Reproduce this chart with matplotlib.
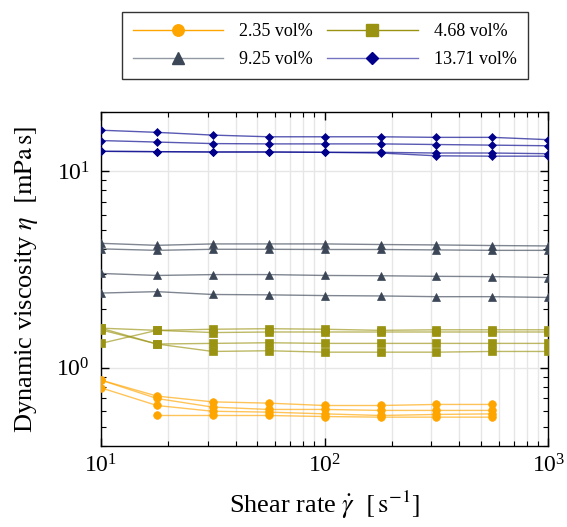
import numpy as np
import matplotlib
matplotlib.use("Agg")
import matplotlib.pyplot as plt
from matplotlib.lines import Line2D
from matplotlib.colors import to_rgba
from matplotlib.ticker import LogLocator, NullFormatter

plt.rcParams['font.family'] = ['Liberation Serif', 'DejaVu Serif']
plt.rcParams['mathtext.fontset'] = 'stix'

shear_rate = [10, 17.8, 31.6, 56.2, 100, 178, 316, 562, 1000]

# 2.35 vol% (measured up to 562 1/s)
eta_235 = [
    [0.865, 0.717, 0.670, 0.660, 0.642, 0.642, 0.650, 0.650],
    [0.865, 0.697, 0.630, 0.613, 0.613, 0.606, 0.606, 0.606],
    [0.790, 0.642, 0.600, 0.594, 0.582, 0.571, 0.578, 0.582],
    [np.nan, 0.571, 0.571, 0.571, 0.564, 0.560, 0.560, 0.560],
]
# 4.68 vol%
eta_468 = [
    [1.59, 1.55, 1.57, 1.58, 1.57, 1.55, 1.56, 1.56, 1.56],
    [1.59, 1.32, 1.33, 1.34, 1.33, 1.33, 1.33, 1.33, 1.33],
    [1.33, 1.55, 1.51, 1.52, 1.52, 1.52, 1.52, 1.52, 1.52],
    [1.56, 1.32, 1.21, 1.22, 1.20, 1.20, 1.20, 1.21, 1.21],
]
# 9.25 vol%
eta_925 = [
    [4.30, 4.20, 4.27, 4.27, 4.27, 4.24, 4.22, 4.19, 4.17],
    [4.03, 3.96, 4.01, 4.01, 4.00, 4.00, 3.98, 3.96, 3.96],
    [3.02, 2.95, 2.98, 2.98, 2.95, 2.94, 2.92, 2.91, 2.88],
    [2.40, 2.44, 2.36, 2.35, 2.33, 2.32, 2.30, 2.30, 2.28],
]
# 13.71 vol%
eta_1371 = [
    [16.2, 15.8, 15.3, 15.0, 15.0, 15.0, 14.9, 14.9, 14.5],
    [14.35, 14.1, 13.85, 13.8, 13.8, 13.8, 13.7, 13.6, 13.5],
    [12.65, 12.6, 12.55, 12.55, 12.5, 12.5, 12.4, 12.4, 12.3],
    [12.65, 12.6, 12.55, 12.55, 12.5, 12.4, 12.0, 11.95, 11.95],
]

labels = ['2.35 vol%', '4.68 vol%', '9.25 vol%', '13.71 vol%']
colors = ['#FFA500', '#9A9312', '#3B4656', '#00008B']
markers = ['o', 's', '^', 'D']
sizes = [5.5, 5.5, 5.5, 4.0]
legend_line_alpha = [1.0, 1.0, 0.55, 0.55]

fig = plt.figure(figsize=(5.67, 5.27), dpi=100)
ax = fig.add_axes([0.178, 0.154, 0.789, 0.633])

handles = []
for data, lab, c, m, s, la in zip([eta_235, eta_468, eta_925, eta_1371], labels,
                                  colors, markers, sizes, legend_line_alpha):
    for row in data:
        x = shear_rate[:len(row)]
        ax.plot(x, row, color=c, alpha=0.65, lw=1.0, zorder=2)
        ax.plot(x, row, ls='none', marker=m, ms=s, color=c, zorder=3,
                markeredgewidth=0.5)
    handles.append(Line2D([], [], color=to_rgba(c, la), lw=1.0, marker=m,
                          ms=s * 1.5 if m != 'D' else 6.5,
                          markerfacecolor=c, markeredgecolor=c, label=lab))

ax.set_xscale('log')
ax.set_yscale('log')
ax.set_xlim(10, 1000)
ax.set_ylim(0.4, 20)
ax.xaxis.set_minor_locator(LogLocator(base=10, subs=np.arange(2, 10)))
ax.yaxis.set_minor_locator(LogLocator(base=10, subs=np.arange(2, 10)))
ax.xaxis.set_minor_formatter(NullFormatter())
ax.yaxis.set_minor_formatter(NullFormatter())
ax.tick_params(which='both', direction='in', top=True, right=True, labelsize=17)
ax.tick_params(which='major', length=6, width=1.0)
ax.tick_params(which='minor', length=3.5, width=0.8)
ax.tick_params(axis='x', which='major', pad=6)
ax.tick_params(axis='y', which='major', pad=8)
ax.grid(True, which='major', axis='both', color='#e6e6e6', lw=1.0, zorder=0)
ax.grid(True, which='minor', axis='x', color='#e6e6e6', lw=1.0, zorder=0)
ax.set_axisbelow(True)
for sp in ax.spines.values():
    sp.set_linewidth(1.0)

ax.set_xlabel(r'Shear rate $\dot{\gamma}$  $\left[\,\mathrm{s}^{-1}\right]$', fontsize=19, labelpad=8)
ax.set_ylabel(r'Dynamic viscosity $\eta$  $[\mathrm{mPa\,s}]$', fontsize=19, labelpad=12)

# row-wise order: 2.35, 4.68 / 9.25, 13.71
order = [0, 2, 1, 3]
leg = ax.legend([handles[i] for i in order], [labels[i] for i in order],
                loc='lower center', bbox_to_anchor=(0.5, 1.073), ncol=2,
                fontsize=13, frameon=True, fancybox=False, edgecolor='black',
                handlelength=5.0, columnspacing=0.8, borderpad=0.6,
                labelspacing=0.6, handletextpad=0.9)
leg.get_frame().set_linewidth(1.0)

plt.savefig('out.png', dpi=100)
